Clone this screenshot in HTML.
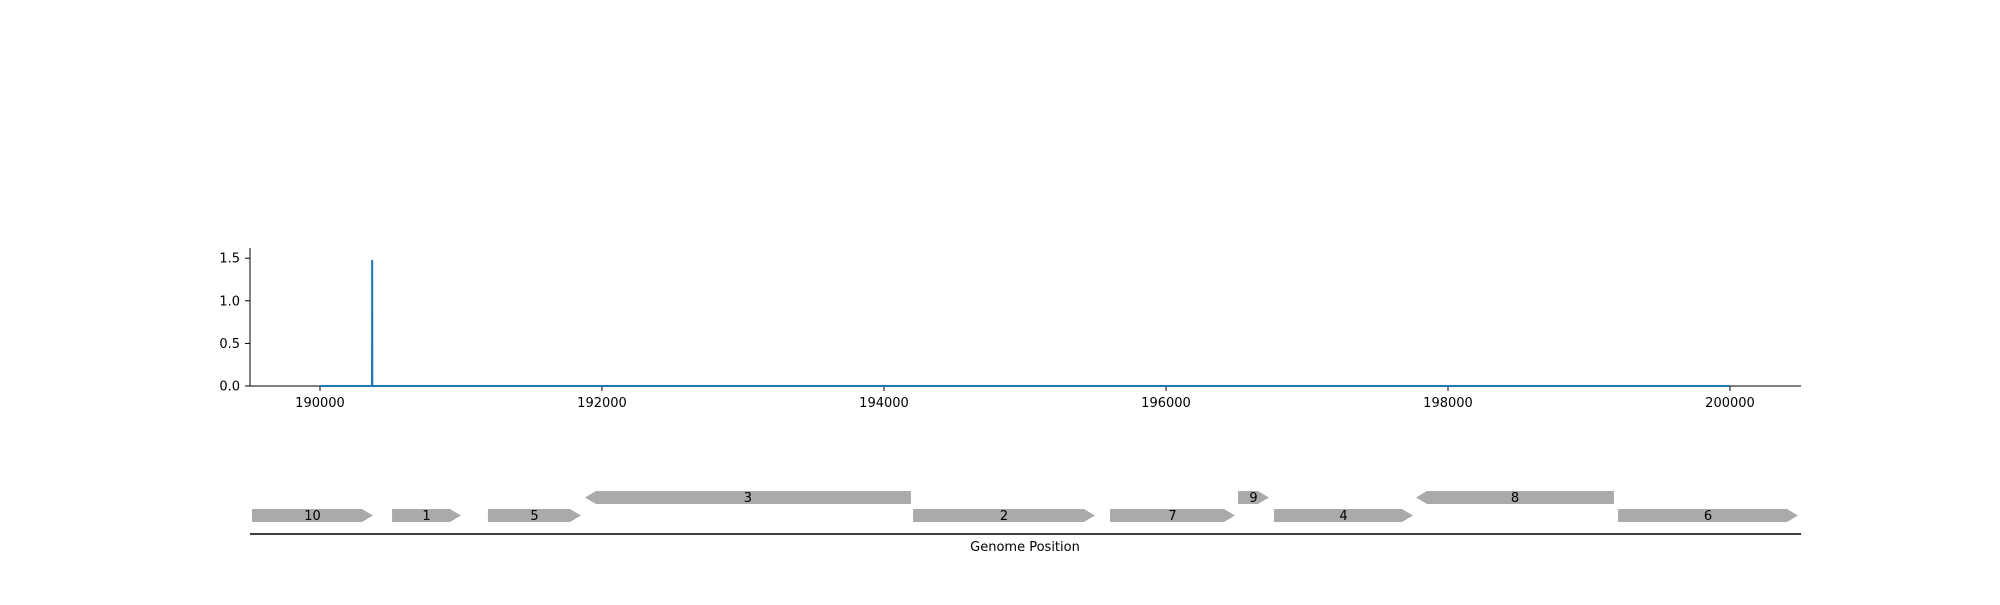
<!DOCTYPE html>
<html><head><meta charset="utf-8"><style>
body{margin:0;background:#fff}
svg text{font-family:"DejaVu Sans","Liberation Sans",sans-serif;font-size:13px;fill:#000}
</style></head><body>
<svg id="chart" width="2000" height="600" xmlns="http://www.w3.org/2000/svg"></svg>
<script>
const positions=[190000,190369,190370,190371,200000];
const values=[0,0,1.48,0,0];
const xTicks=[190000,192000,194000,196000,198000,200000];
const yTicks=[0,0.5,1.0,1.5];
const yTickLabels=["0.0","0.5","1.0","1.5"];
const geneNames=["10","1","5","3","2","7","9","4","8","6"];
const geneStarts=[189518,190511,191191,191879,194206,195603,196511,196766,197773,199206];
const geneEnds=[190376,191000,191851,194191,195496,196489,196730,197752,199177,200482];
const geneStrands=[1,1,1,-1,1,1,1,1,-1,1];
const geneRows=[0,0,0,1,0,0,1,0,1,0];

const svg=document.getElementById('chart');
const NS='http://www.w3.org/2000/svg';
const X=v=>320+(v-190000)*0.141;
const Y=v=>386-v*85.2;
function mk(t,a,p){const e=document.createElementNS(NS,t);for(const k in a)e.setAttribute(k,a[k]);(p||svg).appendChild(e);return e;}

let ya=mk('line',{x1:250,y1:248,x2:250,y2:386,stroke:'#000','stroke-width':1});


let xa=mk('line',{x1:250,y1:386,x2:1801,y2:386,stroke:'#000','stroke-width':1});


yTicks.forEach((v,i)=>{
  mk('line',{x1:245,y1:Y(v),x2:250,y2:Y(v),stroke:'#000'});
  const t=mk('text',{x:240,y:Y(v)+4.5,'text-anchor':'end'});t.textContent=yTickLabels[i];
  
  
});
xTicks.forEach(v=>{
  mk('line',{x1:X(v),y1:386,x2:X(v),y2:391,stroke:'#000'});
  const t=mk('text',{x:X(v),y:407,'text-anchor':'middle'});t.textContent=String(v);
  
  
});
const pl=mk('polyline',{points:positions.map((p,i)=>X(p)+','+Y(values[i])).join(' '),fill:'none',stroke:'#1f77b4','stroke-width':2});



const rowTop=[509,491], h=13, head=11;
geneNames.forEach((n,i)=>{
  const x0=X(geneStarts[i]),x1=X(geneEnds[i]),y0=rowTop[geneRows[i]],y1=y0+h,ym=y0+h/2;
  let pts;
  if(geneStrands[i]>0) pts=[[x0,y0],[x1-head,y0],[x1,ym],[x1-head,y1],[x0,y1]];
  else pts=[[x1,y0],[x0+head,y0],[x0,ym],[x0+head,y1],[x1,y1]];
  const g=mk('g',{});
  
  
  mk('polygon',{points:pts.map(p=>p.join(',')).join(' '),fill:'#aaaaaa'},g);
  const t=mk('text',{x:(x0+x1)/2,y:ym+4.5,'text-anchor':'middle'},g);t.textContent=n;
});
const ga=mk('line',{x1:250,y1:534,x2:1801,y2:534,stroke:'#000','stroke-width':1.5});


const xl=mk('text',{x:1025,y:551,'text-anchor':'middle'});xl.textContent='Genome Position';


</script>
</body></html>
